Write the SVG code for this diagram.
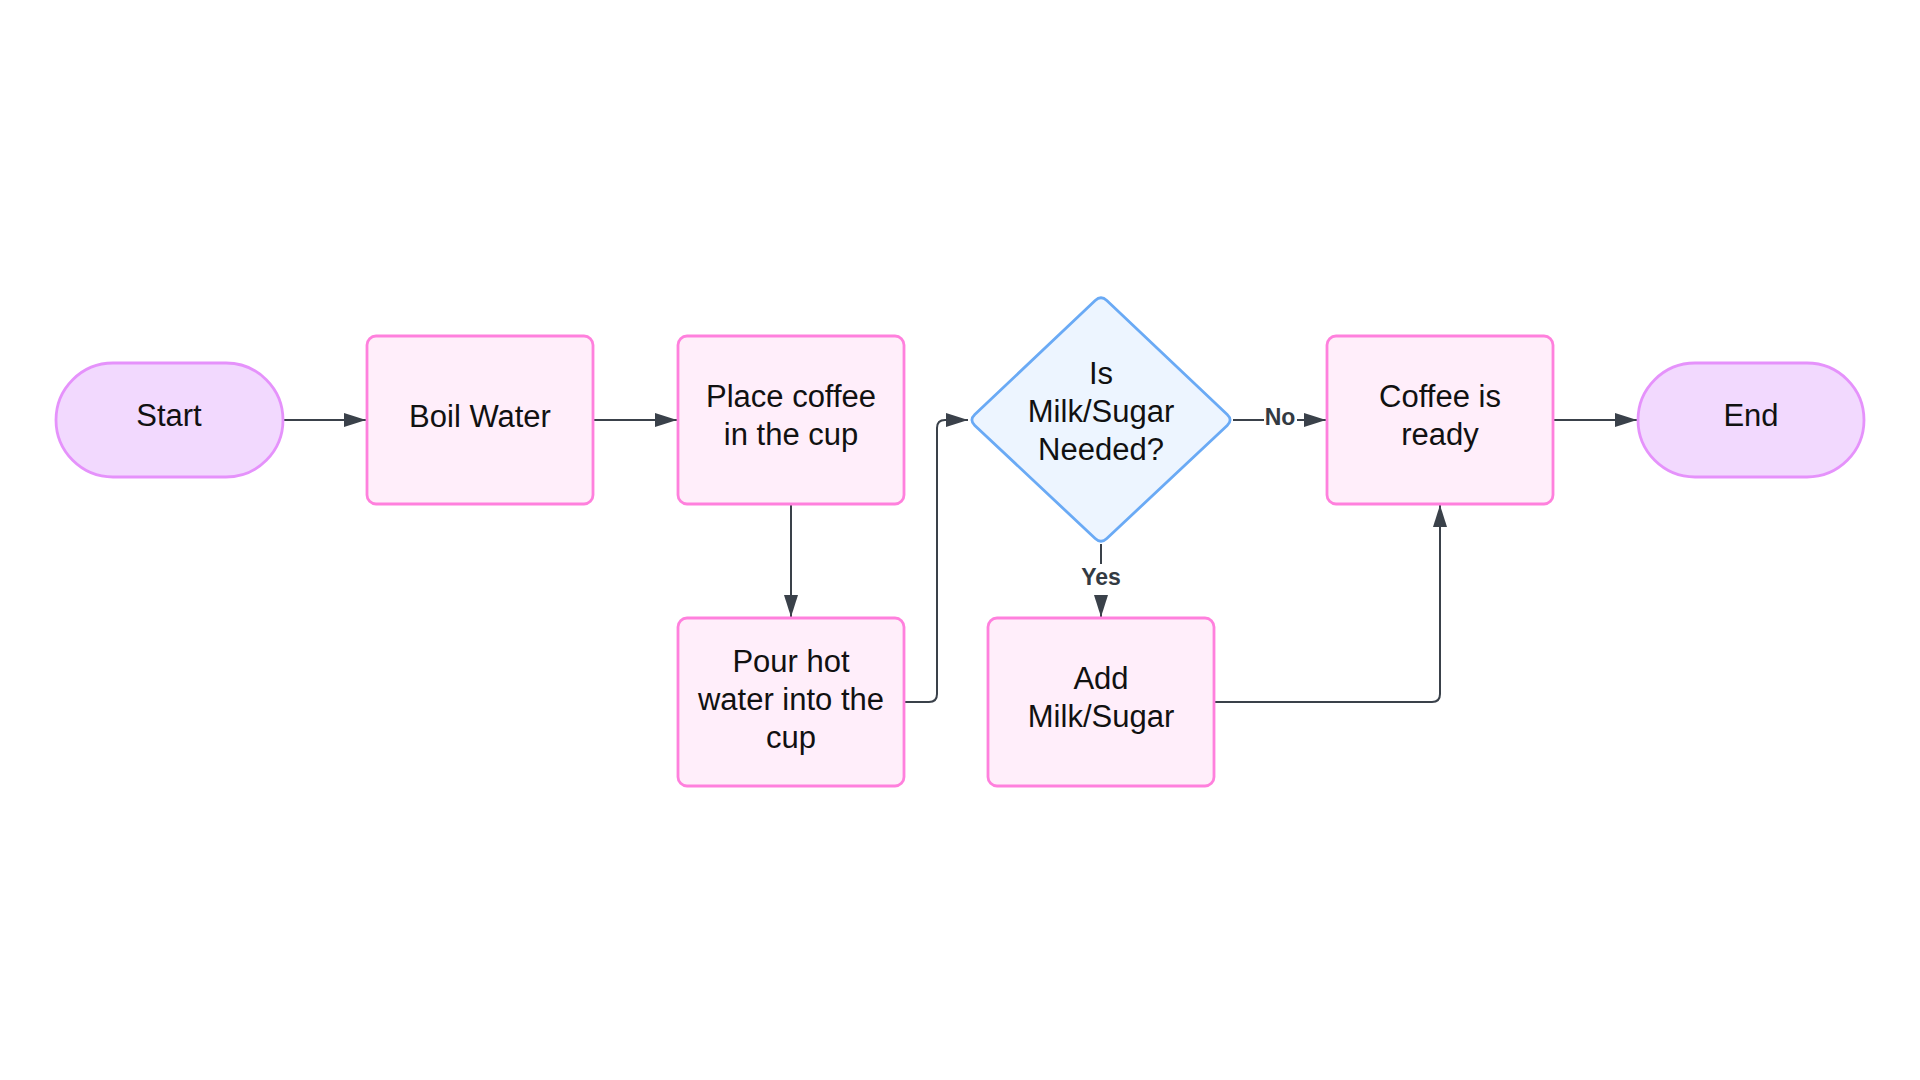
<svg xmlns="http://www.w3.org/2000/svg" width="1920" height="1080" viewBox="0 0 1920 1080">
<style>
.term{fill:#f2d9fe;stroke:#e592fb;stroke-width:2.8}
.proc{fill:#ffeefa;stroke:#ff80dd;stroke-width:2.8}
.dec{fill:#edf5ff;stroke:#6aaaf5;stroke-width:2.8;stroke-linejoin:round}
.t{font-family:"Liberation Sans",Arial,sans-serif;font-size:31px;fill:#111;text-anchor:middle}
.lbl{font-family:"Liberation Sans",Arial,sans-serif;font-size:23px;font-weight:bold;fill:#333a42;text-anchor:middle}
.c{fill:none;stroke:#3a414a;stroke-width:2}
</style>
<defs>
<marker id="arr" markerUnits="userSpaceOnUse" markerWidth="22" markerHeight="14" refX="22" refY="7" orient="auto">
<path d="M0,0 L22,7 L0,14 Z" fill="#3a414a"/>
</marker>
</defs>
<rect width="1920" height="1080" fill="#ffffff"/>
<g id="connectors">
<path class="c" d="M283 420 H366" marker-end="url(#arr)"/>
<path class="c" d="M593 420 H677" marker-end="url(#arr)"/>
<path class="c" d="M791 504 V617" marker-end="url(#arr)"/>
<path class="c" d="M904 702 H929 Q937 702 937 694 V428 Q937 420 945 420 H968" marker-end="url(#arr)"/>
<path class="c" d="M1101 544 V617" marker-end="url(#arr)"/>
<path class="c" d="M1233 420 H1326" marker-end="url(#arr)"/>
<path class="c" d="M1214 702 H1432 Q1440 702 1440 694 V505" marker-end="url(#arr)"/>
<path class="c" d="M1553 420 H1637" marker-end="url(#arr)"/>
<rect x="1083" y="564" width="36" height="31" fill="#ffffff"/>
<text class="lbl" x="1101" y="585">Yes</text>
<rect x="1264" y="406" width="33" height="26" fill="#ffffff"/>
<text class="lbl" x="1280" y="425">No</text>
</g>
<g id="start">
<rect class="term" x="56" y="363" width="227" height="114" rx="57"/>
<text class="t" x="169" y="426">Start</text>
</g>
<g id="boil">
<rect class="proc" x="367" y="336" width="226" height="168" rx="9"/>
<text class="t" x="480" y="427">Boil Water</text>
</g>
<g id="place">
<rect class="proc" x="678" y="336" width="226" height="168" rx="9"/>
<text class="t" x="791" y="407">Place coffee</text>
<text class="t" x="791" y="445">in the cup</text>
</g>
<g id="pour">
<rect class="proc" x="678" y="618" width="226" height="168" rx="9"/>
<text class="t" x="791" y="672">Pour hot</text>
<text class="t" x="791" y="710">water into the</text>
<text class="t" x="791" y="748">cup</text>
</g>
<g id="decision">
<path class="dec" d="M1106.8 300.5 L1227.2 414.5 Q1233 420 1227.2 425.5 L1106.8 538.5 Q1101 544 1095.2 538.5 L974.8 425.5 Q969 420 974.8 414.5 L1095.2 300.5 Q1101 295 1106.8 300.5 Z"/>
<text class="t" x="1101" y="384">Is</text>
<text class="t" x="1101" y="422">Milk/Sugar</text>
<text class="t" x="1101" y="460">Needed?</text>
</g>
<g id="add">
<rect class="proc" x="988" y="618" width="226" height="168" rx="9"/>
<text class="t" x="1101" y="689">Add</text>
<text class="t" x="1101" y="727">Milk/Sugar</text>
</g>
<g id="ready">
<rect class="proc" x="1327" y="336" width="226" height="168" rx="9"/>
<text class="t" x="1440" y="407">Coffee is</text>
<text class="t" x="1440" y="445">ready</text>
</g>
<g id="end">
<rect class="term" x="1638" y="363" width="226" height="114" rx="57"/>
<text class="t" x="1751" y="426">End</text>
</g>
</svg>
